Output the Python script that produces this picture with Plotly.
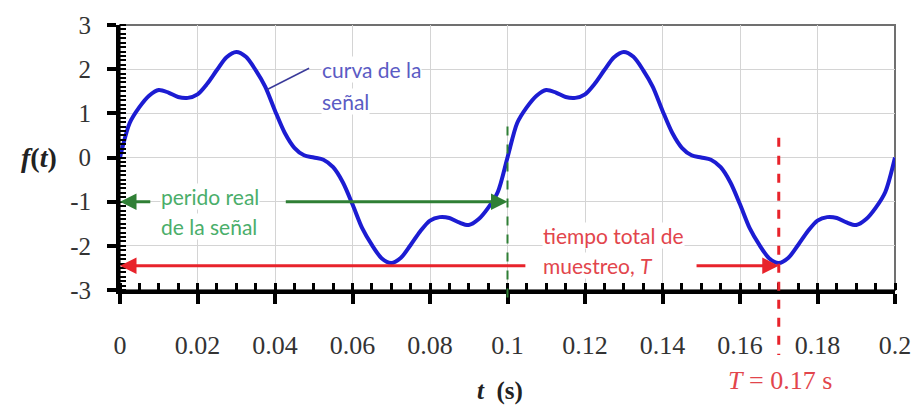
import plotly.graph_objects as go

# ---- data ----
t_vals = [0.0, 0.0025, 0.005, 0.0075, 0.01, 0.0125, 0.015, 0.0175, 0.02, 0.0225,
          0.025, 0.0275, 0.03, 0.0325, 0.035, 0.0375, 0.04, 0.0425, 0.045, 0.0475,
          0.05, 0.0525, 0.055, 0.0575, 0.06, 0.0625, 0.065, 0.0675, 0.07, 0.0725,
          0.075, 0.0775, 0.08, 0.0825, 0.085, 0.0875, 0.09, 0.0925, 0.095, 0.0975,
          0.1, 0.1025, 0.105, 0.1075, 0.11, 0.1125, 0.115, 0.1175, 0.12, 0.1225,
          0.125, 0.1275, 0.13, 0.1325, 0.135, 0.1375, 0.14, 0.1425, 0.145, 0.1475,
          0.15, 0.1525, 0.155, 0.1575, 0.16, 0.1625, 0.165, 0.1675, 0.17, 0.1725,
          0.175, 0.1775, 0.18, 0.1825, 0.185, 0.1875, 0.19, 0.1925, 0.195, 0.1975, 0.2]
f_vals = [0.0, 0.78, 1.14, 1.40, 1.53, 1.47, 1.37, 1.35, 1.43, 1.67,
          1.98, 2.27, 2.39, 2.28, 1.98, 1.60, 1.06, 0.56, 0.22, 0.05,
          0.0, -0.05, -0.22, -0.56, -1.06, -1.60, -1.98, -2.28, -2.39, -2.27,
          -1.98, -1.67, -1.43, -1.35, -1.37, -1.47, -1.53, -1.40, -1.14, -0.78,
          0.0, 0.78, 1.14, 1.40, 1.53, 1.47, 1.37, 1.35, 1.43, 1.67,
          1.98, 2.27, 2.39, 2.28, 1.98, 1.60, 1.06, 0.56, 0.22, 0.05,
          0.0, -0.05, -0.22, -0.56, -1.06, -1.60, -1.98, -2.28, -2.39, -2.27,
          -1.98, -1.67, -1.43, -1.35, -1.37, -1.47, -1.53, -1.40, -1.14, -0.78, 0.0]

x_ticks = [0, 0.02, 0.04, 0.06, 0.08, 0.1, 0.12, 0.14, 0.16, 0.18, 0.2]
x_tick_labels = ["0", "0.02", "0.04", "0.06", "0.08", "0.1", "0.12", "0.14", "0.16", "0.18", "0.2"]
y_ticks = [-3, -2, -1, 0, 1, 2, 3]
y_tick_labels = ["-3", "-2", "-1", "0", "1", "2", "3"]

PERIOD = 0.1          # real period of the signal
T_SAMPLE = 0.17       # total sampling time
PERIOD_Y = -1.0
SAMPLE_Y = -2.45

BLUE = "#1c1cd2"
BLUE_TXT = "#5b5bc4"
GREEN = "#2f7f35"
GREEN_TXT = "#4aae6a"
RED = "#e8232b"
RED_TXT = "#e2454c"
SANS = "Lato"
SERIF = "Liberation Serif"

fig = go.Figure()
fig.add_trace(go.Scatter(x=t_vals, y=f_vals, mode="lines",
                         line=dict(color=BLUE, width=4, shape="spline", smoothing=0.8),
                         hoverinfo="skip", showlegend=False))

W, H = 923, 405
ML, MR, MT, MB = 120, 24, 22, 115

fig.update_layout(
    width=W, height=H, margin=dict(l=ML, r=MR, t=MT, b=MB),
    paper_bgcolor="white", plot_bgcolor="white", showlegend=False,
    xaxis=dict(range=[0, 0.2], tickvals=x_ticks, ticktext=x_tick_labels,
               showgrid=True, gridcolor="#d4d4d4", gridwidth=1, zeroline=False,
               showline=True, linecolor="black", linewidth=4,
               ticks="outside", ticklen=10, tickwidth=3.5, tickcolor="black",
               ticklabelstandoff=19,
               tickfont=dict(family=SERIF, size=26, color="#333"),
               minor=dict(dtick=0.005, ticks="inside", ticklen=7, tickwidth=2.5,
                          tickcolor="black", showgrid=False)),
    yaxis=dict(range=[-3, 3], tickvals=y_ticks, ticktext=y_tick_labels,
               showgrid=True, gridcolor="#d4d4d4", gridwidth=1, zeroline=False,
               showline=True, linecolor="black", linewidth=4,
               ticks="outside", ticklen=9, tickwidth=3.5, tickcolor="black",
               ticklabelstandoff=11,
               tickfont=dict(family=SERIF, size=25, color="#333"),
               minor=dict(dtick=0.1, ticks="inside", ticklen=6, tickwidth=2,
                          tickcolor="black", showgrid=False)),
)

shapes = [
    # top / right frame
    dict(type="rect", xref="paper", yref="paper", x0=0, x1=1, y0=0, y1=1,
         line=dict(color="#707070", width=2), layer="below"),
    # period marker
    dict(type="line", xref="x", yref="paper", x0=PERIOD, x1=PERIOD, y0=0.617, y1=-0.05,
         line=dict(color=GREEN, width=2, dash="dash")),
    # sampling time marker
    dict(type="line", xref="x", yref="paper", x0=T_SAMPLE, x1=T_SAMPLE, y0=0.575, y1=-0.245,
         line=dict(color=RED, width=3, dash="dash")),
    # pointer for curve label
    dict(type="line", xref="x", yref="y", x0=0.0488, y0=2.02, x1=0.038, y1=1.54,
         line=dict(color="#3a3a9a", width=1.5)),
]
fig.update_layout(shapes=shapes)


def arrow(x_head, x_tail, y, color):
    return dict(x=x_head, y=y, ax=x_tail, ay=y, xref="x", yref="y", axref="x", ayref="y",
                text="", showarrow=True, arrowhead=2, arrowsize=1.1, arrowwidth=3,
                arrowcolor=color, standoff=0, startstandoff=0)


def label(x, y, text, color, family=SANS, size=21, xanchor="left", xref="x", yref="y", bg="white"):
    return dict(x=x, y=y, xref=xref, yref=yref, text=text, showarrow=False,
                xanchor=xanchor, yanchor="middle", bgcolor=bg, borderpad=0,
                font=dict(family=family, size=size, color=color))


annotations = [
    arrow(0.0, 0.0082, PERIOD_Y, GREEN),
    arrow(PERIOD, 0.0424, PERIOD_Y, GREEN),
    arrow(0.0, 0.105, SAMPLE_Y, RED),
    arrow(T_SAMPLE, 0.1484, SAMPLE_Y, RED),
    label(0.0519, 2.0, "curva de la", BLUE_TXT),
    label(0.0519, 1.27, "señal", BLUE_TXT),
    label(0.0103, -0.88, "perido real", GREEN_TXT),
    label(0.0103, -1.56, "de la señal", GREEN_TXT),
    label(0.109, -1.76, "tiempo total de", RED_TXT),
    label(0.109, -2.45, "muestreo, <i>T</i>", RED_TXT),
    label(T_SAMPLE + 0.0003, -0.343, "<i>T</i> = 0.17 s", RED_TXT, family=SERIF, size=26,
          xanchor="center", yref="paper", bg="rgba(0,0,0,0)"),
    label(0.49, -0.38, "<b><i>t</i>  (s)</b>", "#222", family=SERIF, size=25,
          xanchor="center", xref="paper", yref="paper", bg="rgba(0,0,0,0)"),
    label(-0.105, 0.5, "<b><i>f</i>(<i>t</i>)</b>", "#222", family=SERIF, size=28,
          xanchor="center", xref="paper", yref="paper", bg="rgba(0,0,0,0)"),
]
fig.update_layout(annotations=annotations)

fig.write_html("out.html")
